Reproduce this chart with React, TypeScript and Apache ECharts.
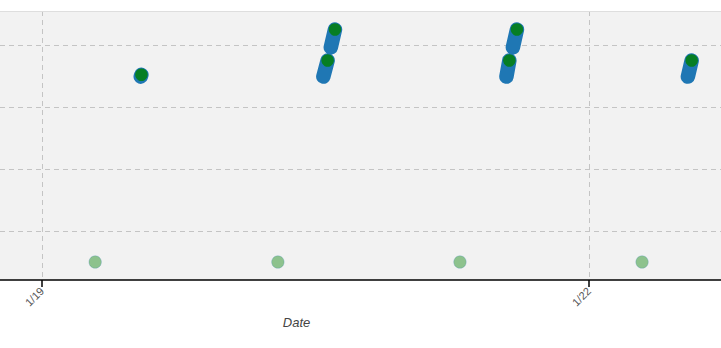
import React, { useEffect, useRef } from "react";
import * as echarts from "echarts";

// Times are "MM-DD HH:MM" (January), values are on a hidden y scale.
const BASE_DAY = 19; // 1/19 00:00 is x = 0 (unit: days)
const X_MIN_DAYS = -0.2303;
const X_MAX_DAYS = 3.724;
const Y_MIN = 0.21;
const Y_MAX = 4.548;

// Daily baseline points (light green)
const baselineTimes = ["01-19 07:00", "01-20 07:03", "01-21 07:01", "01-22 06:59"];
const baselineValues = [0.5, 0.5, 0.5, 0.5];

// Segments: start -> end (blue bars), end marked by green dot
const segStartTimes = ["01-19 13:00", "01-20 13:02", "01-20 14:01", "01-21 13:08", "01-21 13:59", "01-22 13:01"];
const segStartValues = [3.49, 3.49, 3.96, 3.49, 3.96, 3.49];
const segEndTimes = ["01-19 13:05", "01-20 13:36", "01-20 14:34", "01-21 13:31", "01-21 14:31", "01-22 13:31"];
const segEndValues = [3.52, 3.75, 4.25, 3.75, 4.25, 3.75];

function toDays(s: string): number {
  const [md, hm] = s.split(" ");
  const [, d] = md.split("-").map(Number);
  const [h, m] = hm.split(":").map(Number);
  return d - BASE_DAY + (h + m / 60) / 24;
}

export default function App() {
  const ref = useRef<HTMLDivElement>(null);
  useEffect(() => {
    document.body.style.margin = "0";
    if (!ref.current) return;
    const chart = echarts.init(ref.current, null, { renderer: "svg" });

    const lineData: any[] = [];
    segStartTimes.forEach((t, i) => {
      lineData.push([toDays(t), segStartValues[i]]);
      lineData.push([toDays(segEndTimes[i]), segEndValues[i]]);
      lineData.push([null, null]);
    });

    chart.setOption({
      animation: false,
      grid: {
        left: 0,
        right: 0,
        top: 11,
        bottom: 68,
        show: true,
        backgroundColor: "#f2f2f2",
        borderWidth: 0,
      },
      xAxis: [
        {
          type: "value",
          min: X_MIN_DAYS,
          max: X_MAX_DAYS,
          minInterval: 3,
          maxInterval: 3,
          name: "Date",
          nameLocation: "middle",
          nameGap: 36,
          nameTextStyle: {
            fontStyle: "italic",
            fontSize: 13,
            color: "#444",
            fontFamily: "Liberation Sans, Arial, sans-serif",
            padding: [0, 128, 0, 0],
          },
          axisLine: { show: true, onZero: false, lineStyle: { color: "#000", width: 1.5 } },
          axisTick: { show: true, length: 7, lineStyle: { color: "#000", width: 1.5 } },
          axisLabel: {
            rotate: 45,
            fontSize: 11,
            color: "#555",
            fontFamily: "Liberation Sans, Arial, sans-serif",
            margin: 9,
            showMinLabel: false,
            showMaxLabel: false,
            formatter: (v: number) => {
              if (Math.abs(v - Math.round(v)) > 1e-6) return "";
              return "1/" + (BASE_DAY + Math.round(v));
            },
          },
          splitLine: {
            show: true,
            showMinLine: false,
            showMaxLine: false,
            lineStyle: { type: [5, 4], color: "#c4c4c4", width: 1 },
          },
        },
        {
          type: "value",
          position: "top",
          min: X_MIN_DAYS,
          max: X_MAX_DAYS,
          axisLine: { show: true, lineStyle: { color: "#dedede", width: 1 } },
          axisTick: { show: false },
          axisLabel: { show: false },
          splitLine: { show: false },
        },
      ],
      yAxis: {
        type: "value",
        min: Y_MIN,
        max: Y_MAX,
        minInterval: 1,
        maxInterval: 1,
        axisLine: { show: false },
        axisTick: { show: false },
        axisLabel: { show: false },
        splitLine: {
          show: true,
          showMinLine: false,
          showMaxLine: false,
          lineStyle: { type: [5, 4], color: "#c4c4c4", width: 1 },
        },
      },
      series: [
        {
          type: "scatter",
          data: baselineTimes.map((t, i) => [toDays(t), baselineValues[i]]),
          symbolSize: 12.5,
          itemStyle: { color: "rgba(0,128,0,0.52)", borderColor: "rgba(31,119,180,0.35)", borderWidth: 0.8 },
        },
        {
          type: "line",
          data: lineData,
          symbol: "none",
          connectNulls: false,
          lineStyle: { color: "#1f77b4", width: 14.5, cap: "round", join: "round" },
        },
        {
          type: "scatter",
          data: segEndTimes.map((t, i) => [toDays(t), segEndValues[i]]),
          symbolSize: 12.5,
          itemStyle: { color: "#008000" },
          z: 5,
        },
      ],
    });
    return () => chart.dispose();
  }, []);
  return <div ref={ref} style={{ width: 721, height: 348 }} />;
}
